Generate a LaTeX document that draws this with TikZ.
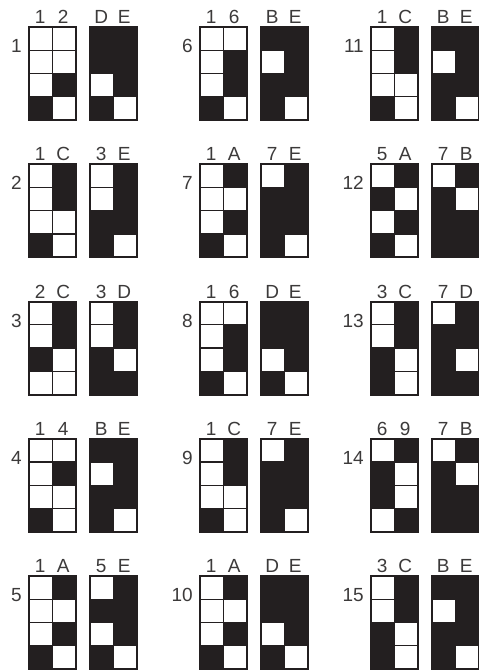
\documentclass[tikz,border=0pt]{standalone}
\usepackage{fontspec}
\setmainfont{Liberation Sans}
\definecolor{ink}{RGB}{35,31,32}
\definecolor{textink}{RGB}{60,58,58}
\tikzset{
  lab/.style={inner sep=0pt, text=textink, font=\fontsize{19}{19}\selectfont},
  gridfill/.style={fill=ink},
  gridframe/.style={draw=ink, line width=2pt},
  cellwhite/.style={fill=white}
}
\newcommand\hexcolumn[3]{%
  \pgfmathtruncatemacro\hv{0x#3}%
  \foreach \k in {0,...,3}{%
    \pgfmathtruncatemacro\bit{mod(floor(\hv/2^(3-\k)),2)}%
    \ifnum\bit=0
      \fill[cellwhite] ({#1+0.6},{#2+\k*23.25+0.6}) rectangle ++(22.3,22.05);
    \fi
  }%
}
\begin{document}
\begin{tikzpicture}[x=1pt,y=-1pt]
\useasboundingbox (0,0) rectangle (479,670);
\foreach \n/\c/\r/\a/\b/\d/\e in {
  1/0/0/1/2/D/E, 2/0/1/1/C/3/E, 3/0/2/2/C/3/D, 4/0/3/1/4/B/E, 5/0/4/1/A/5/E,
  6/1/0/1/6/B/E, 7/1/1/1/A/7/E, 8/1/2/1/6/D/E, 9/1/3/1/C/7/E, 10/1/4/1/A/D/E,
  11/2/0/1/C/B/E, 12/2/1/5/A/7/B, 13/2/2/3/C/7/D, 14/2/3/6/9/7/B, 15/2/4/3/C/B/E}{
  \pgfmathsetmacro\X{29+171*\c}
  \pgfmathsetmacro\Y{27+137.25*\r}
  \pgfmathsetmacro\XR{\X+61}
  % left grid
  \fill[gridfill] (\X,\Y) rectangle ++(47,93);
  \hexcolumn{\X}{\Y}{\a}
  \hexcolumn{\X+23.5}{\Y}{\b}
  \draw[gridframe] (\X,\Y) rectangle ++(47,93);
  % right grid
  \fill[gridfill] (\XR,\Y) rectangle ++(47,93);
  \hexcolumn{\XR}{\Y}{\d}
  \hexcolumn{\XR+23.5}{\Y}{\e}
  \draw[gridframe] (\XR,\Y) rectangle ++(47,93);
  % labels
  \node[lab, anchor=base] (la\n) at (\X+11.25,\Y-3.5) {\a};
  \node[lab, anchor=base] (lb\n) at (\X+34.25,\Y-3.5) {\b};
  \node[lab, anchor=base] (ld\n) at (\XR+11.25,\Y-3.5) {\d};
  \node[lab, anchor=base] (le\n) at (\XR+34.25,\Y-3.5) {\e};
  \node[lab, anchor=east] (num\n) at (\X-7,\Y+19) {\n};
}
\end{tikzpicture}
\end{document}
